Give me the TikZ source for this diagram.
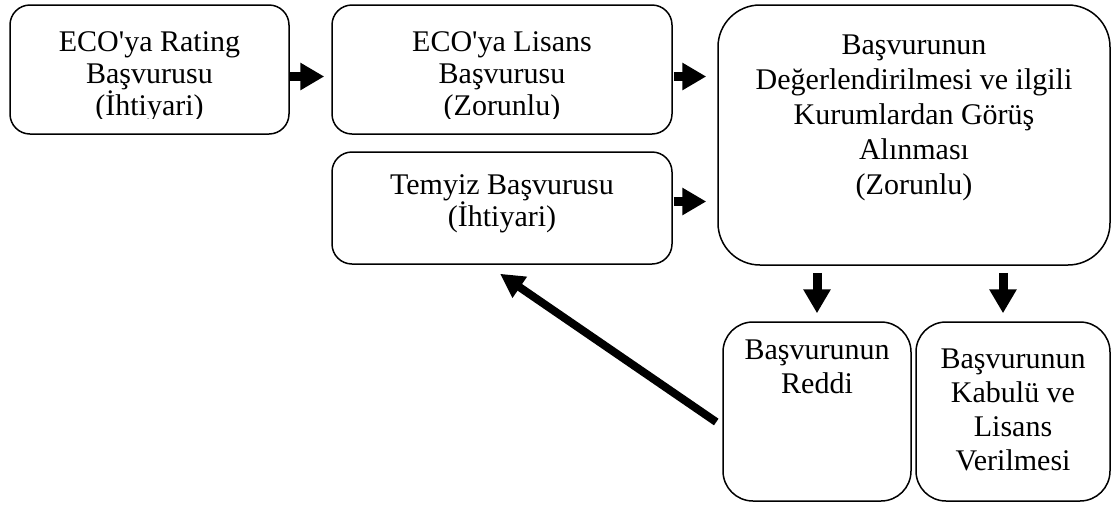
\documentclass[tikz,border=0pt]{standalone}
\usepackage{fontspec}
\setmainfont{Liberation Serif}[Ligatures=TeXOff]
\usetikzlibrary{calc,arrows.meta}

\tikzset{
	box/.style={draw, line width=1.5pt, rounded corners=#1, inner sep=0pt},
	box/.default=20pt,
	boxtext/.style={anchor=north, align=center, inner sep=0pt, font=\fontsize{30}{#1}\selectfont},
	boxtext/.default=32,
	blockarrow/.style={line width=9pt, -{Triangle[length=24pt,width=26pt]}}
}

\begin{document}
\begin{tikzpicture}[x=1pt,y=-1pt]
		%%%%% START %%%%%
		\useasboundingbox (0,0) rectangle (1112,504);
		
		% boxes
		\node[box, minimum width=279pt, minimum height=129pt] (rating) at (149.5,69.5) {};
		\node[box, minimum width=340pt, minimum height=129pt] (lisans) at (502,69.5) {};
		\node[box, minimum width=340pt, minimum height=112pt] (temyiz) at (502,208) {};
		\node[box=42pt, minimum width=392pt, minimum height=260pt] (degerl) at (914,135) {};
		\node[box=30pt, minimum width=188pt, minimum height=179pt] (red) at (817,411.5) {};
		\node[box=30pt, minimum width=194pt, minimum height=179pt] (kabul) at (1013,411.5) {};
		
		% texts (the lower lines are cut off by the box)
		\begin{scope}
			\clip (rating.north west) rectangle ($(rating.south east)+(0,-16.5)$);
			\node[boxtext] (ratingtxt) at ($(rating.north)+(0,27)$) {ECO'ya Rating\\Başvurusu\\(İhtiyari)};
		\end{scope}
		\begin{scope}
			\clip (lisans.north west) rectangle ($(lisans.south east)+(0,-16.5)$);
			\node[boxtext] (lisanstxt) at ($(lisans.north)+(0,27)$) {ECO'ya Lisans\\Başvurusu\\(Zorunlu)};
		\end{scope}
		\node[boxtext=29] (temyiztxt) at ($(temyiz.north)+(0,23)$) {Temyiz Başvurusu\\(İhtiyari)};
		\node[boxtext=35] (degerltxt) at ($(degerl.north)+(0,30)$) {Başvurunun\\Değerlendirilmesi ve ilgili\\Kurumlardan Görüş\\Alınması\\(Zorunlu)};
		\node[boxtext=34] (redtxt) at ($(red.north)+(0,18)$) {Başvurunun\\Reddi};
		\node[boxtext=34] (kabultxt) at ($(kabul.north)+(0,27)$) {Başvurunun\\Kabulü ve\\Lisans\\Verilmesi};
		
		% arrows
		\draw[blockarrow] ($(rating.east)+(0,7)$) -- ($(lisans.west)+(-7,7)$);
		\draw[blockarrow] ($(lisans.east)+(1,7)$) -- ($(degerl.west |- lisans.east)+(-11,7)$);
		\draw[blockarrow] ($(temyiz.east)+(1,-6.5)$) -- ($(degerl.west |- temyiz.east)+(-11,-6.5)$);
		\draw[blockarrow] ($(degerl.south -| red.north)+(0,7)$) -- ($(red.north)+(0,-8)$);
		\draw[blockarrow] ($(degerl.south -| kabul.north)+(-10,7)$) -- ($(kabul.north)+(-10,-8)$);
		\draw[blockarrow, line width=8pt, -{Triangle[length=24pt,width=24pt]}] ($(red.west)+(-6,10.5)$) -- ($(temyiz.south)+(-2,9)$);
		
		%%%%% END %%%%%
\end{tikzpicture}
\end{document}
